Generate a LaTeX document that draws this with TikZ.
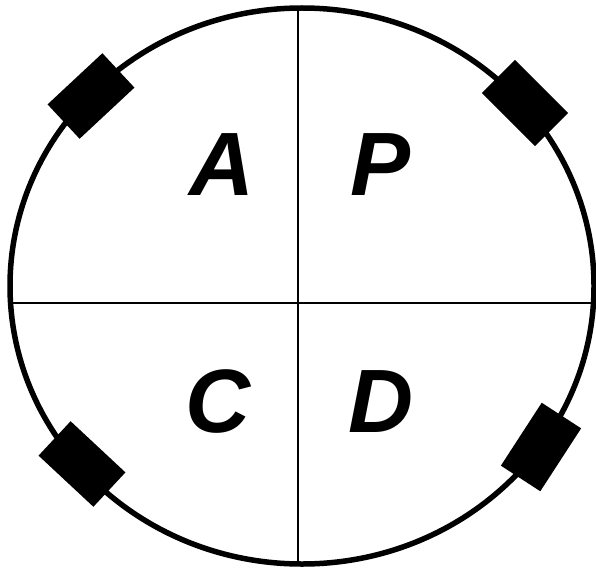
\documentclass[tikz,border=0pt]{standalone}
\usepackage{fontspec}
\setmainfont{Liberation Sans}
\usepackage{tikz}
\usetikzlibrary{positioning,calc}
\tikzset{
rim/.style={draw=black,line width=5.5pt},
divider/.style={draw=black,line width=1.5pt},
mount/.style={fill=black,draw=none,inner sep=0pt,minimum width=75pt,minimum height=47pt},
quad/.style={font=\fontsize{90}{90}\selectfont\bfseries\itshape,inner sep=0pt,anchor=base}
}
\begin{document}
\begin{tikzpicture}[x=1pt,y=-1pt]
\useasboundingbox (0,0) rectangle (596,567);
\coordinate (top) at (298,7);
\coordinate (bot) at (298,564);
\coordinate (lft) at (10,303);
\coordinate (rgt) at (594,303);
\draw[rim] (302,286) ellipse [x radius=292,y radius=278];
\draw[divider] (top) -- (bot);
\draw[divider] (lft) -- (rgt);
\node[mount,rotate=43] (ul) at (91,96) {};
\node[mount,rotate=-45] (ur) at (525,103) {};
\node[mount,rotate=-43] (ll) at (82,464) {};
\node[mount,rotate=57] (lr) at (541,447) {};
\node[quad] (a) at (222,195) {A};
\node[quad] (p) at (381,195) {P};
\node[quad] (c) at (218,432) {C};
\node[quad] (d) at (381,432) {D};
\end{tikzpicture}
\end{document}
